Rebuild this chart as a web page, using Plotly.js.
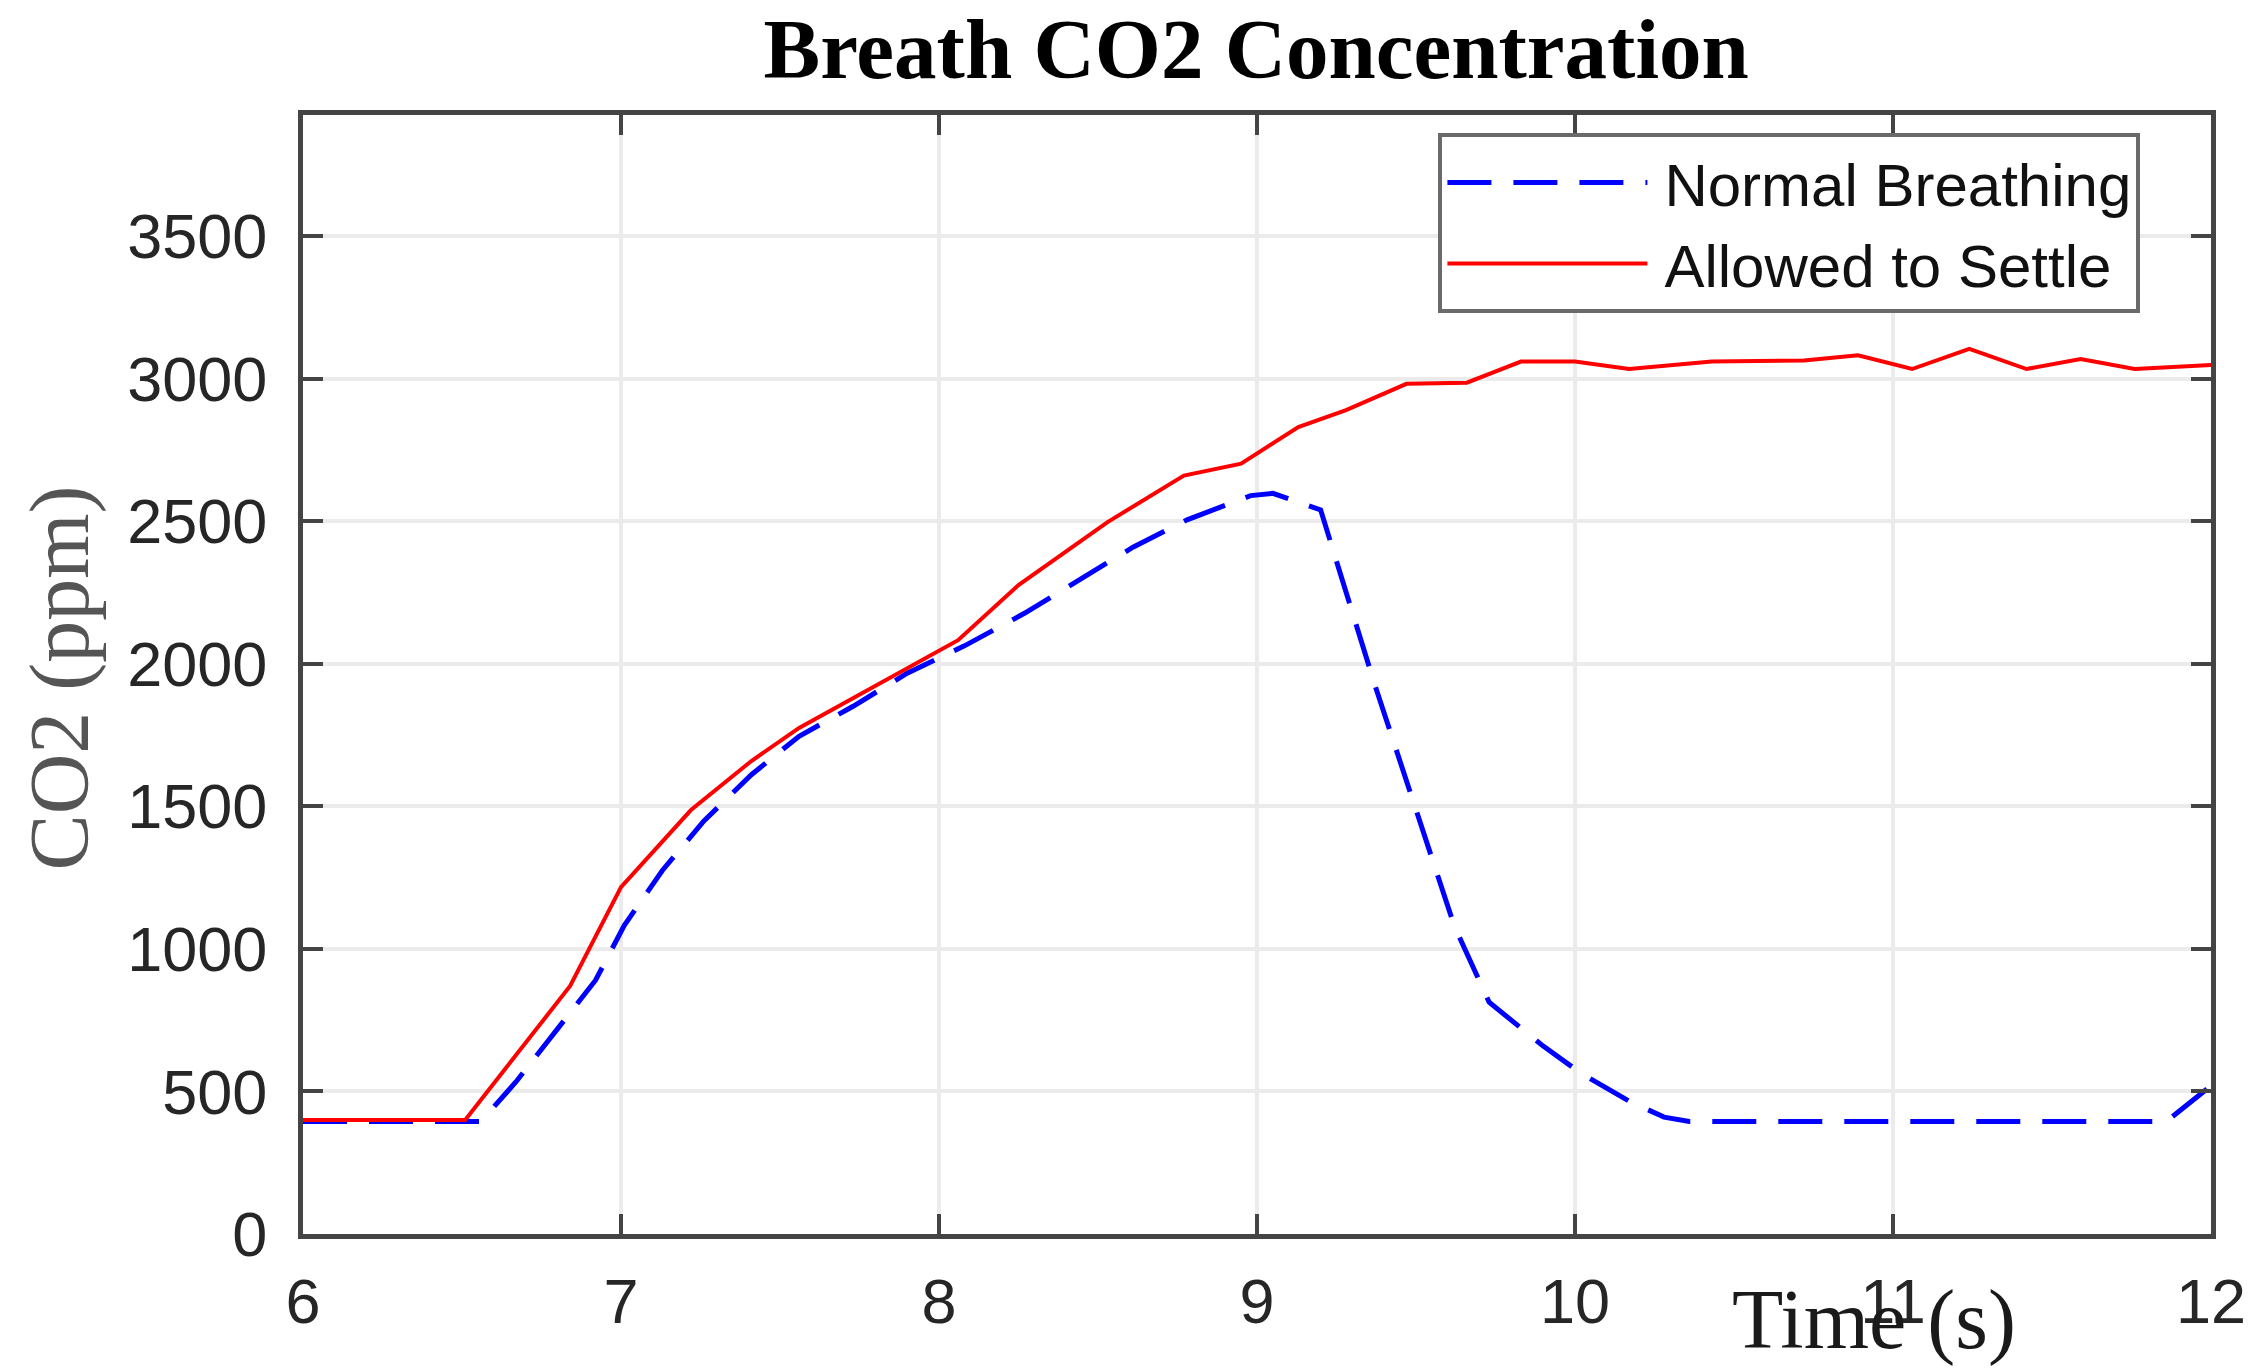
<!DOCTYPE html>
<html>
<head>
<meta charset="utf-8">
<script src="https://cdn.plot.ly/plotly-3.0.1.min.js"></script>
<style>
  html, body { margin: 0; padding: 0; background: #fff; }
  #co2-plot { width: 2254px; height: 1371px; }
</style>
</head>
<body>
<div id="co2-plot"></div>
<script>
// values
const time_normal = [6.0, 6.56, 6.67, 6.92, 7.01, 7.13, 7.26, 7.41, 7.56, 7.73, 7.9, 8.08, 8.27, 8.44, 8.61, 8.78, 8.98, 9.05, 9.2, 9.37, 9.5, 9.62, 9.73, 9.9, 10.02, 10.17, 10.28, 10.36, 11.86, 12.0];
const co2_normal = [395, 395, 534, 890, 1082, 1275, 1448, 1611, 1746, 1851, 1967, 2063, 2178, 2294, 2409, 2505, 2590, 2598, 2540, 1928, 1487, 1082, 813, 659, 563, 466, 410, 395, 395, 520];

const time_settle = [6.0, 6.51, 6.84, 7.0, 7.22, 7.41, 7.56, 7.81, 8.06, 8.25, 8.53, 8.77, 8.95, 9.13, 9.28, 9.47, 9.66, 9.83, 10.0, 10.17, 10.43, 10.72, 10.89, 11.06, 11.24, 11.42, 11.59, 11.76, 12.0];
const co2_settle = [400, 400, 870, 1217, 1487, 1659, 1775, 1929, 2083, 2276, 2497, 2660, 2702, 2830, 2890, 2982, 2986, 3060, 3060, 3034, 3060, 3064, 3082, 3034, 3105, 3034, 3069, 3034, 3048];

const series_names = ['Normal Breathing', 'Allowed to Settle'];
const x_ticks = [6, 7, 8, 9, 10, 11, 12];
const y_ticks = [0, 500, 1000, 1500, 2000, 2500, 3000, 3500];

const axisColor = '#444444';
const tickFont = { family: 'Liberation Sans, Arial, sans-serif', size: 63, color: '#262626' };

// thin space keeps a small gap between legend line and its text, as in the original
var traceNormal = {
    x: time_normal,
    y: co2_normal,
    type: 'scatter',
    mode: 'lines',
    name: '\u2009' + series_names[0],
    line: { color: '#0000ff', width: 5, dash: '44px,22px' }
};

var traceSettle = {
    x: time_settle,
    y: co2_settle,
    type: 'scatter',
    mode: 'lines',
    name: '\u2009' + series_names[1],
    line: { color: '#ff0000', width: 4 }
};

var layout = {
    width: 2254,
    height: 1371,
    margin: { l: 303, r: 43, t: 115, b: 137 },
    paper_bgcolor: '#ffffff',
    plot_bgcolor: '#ffffff',
    showlegend: true,
    title: {
        text: '<b>Breath CO2 Concentration</b>',
        font: { family: 'Liberation Serif, Times New Roman, serif', size: 85, color: '#000000' },
        x: 0.5573, xanchor: 'center',
        y: 0.965, yanchor: 'middle'
    },
    xaxis: {
        range: [6, 12],
        tickvals: x_ticks,
        ticktext: x_ticks.map(String),
        ticks: 'inside',
        ticklen: 20,
        tickwidth: 4,
        tickcolor: axisColor,
        showline: true,
        linecolor: axisColor,
        linewidth: 5,
        mirror: 'ticks',
        showgrid: true,
        gridcolor: '#ebebeb',
        gridwidth: 4,
        zeroline: false,
        tickfont: tickFont,
        ticklabelstandoff: 8
    },
    yaxis: {
        range: [0, 3925],
        tickvals: y_ticks,
        ticktext: y_ticks.map(String),
        ticks: 'inside',
        ticklen: 20,
        tickwidth: 4,
        tickcolor: axisColor,
        showline: true,
        linecolor: axisColor,
        linewidth: 5,
        mirror: 'ticks',
        showgrid: true,
        gridcolor: '#ebebeb',
        gridwidth: 4,
        zeroline: false,
        tickfont: tickFont,
        ticklabelstandoff: 18
    },
    legend: {
        x: 0.963, xanchor: 'right',
        y: 0.984, yanchor: 'top',
        bgcolor: '#ffffff',
        bordercolor: '#6a6a6a',
        borderwidth: 4,
        itemwidth: 200,
        font: { family: 'Liberation Sans, Arial, sans-serif', size: 60, color: '#111111' }
    },
    annotations: [
        {
            // the axis label sits off-centre in the original, over the "11" tick
            text: 'Time (s)',
            xref: 'paper', yref: 'paper',
            x: 0.8236, y: -0.077,
            xanchor: 'center', yanchor: 'middle',
            showarrow: false,
            font: { family: 'Liberation Serif, Times New Roman, serif', size: 84, color: '#1a1a1a' }
        },
        {
            text: 'CO2 (ppm)',
            xref: 'paper', yref: 'paper',
            x: -0.1276, y: 0.497,
            xanchor: 'center', yanchor: 'middle',
            textangle: -90,
            showarrow: false,
            font: { family: 'Liberation Serif, Times New Roman, serif', size: 84, color: '#555555' }
        }
    ]
};

Plotly.newPlot('co2-plot', [traceNormal, traceSettle], layout, { displayModeBar: false, staticPlot: true });
</script>
</body>
</html>
